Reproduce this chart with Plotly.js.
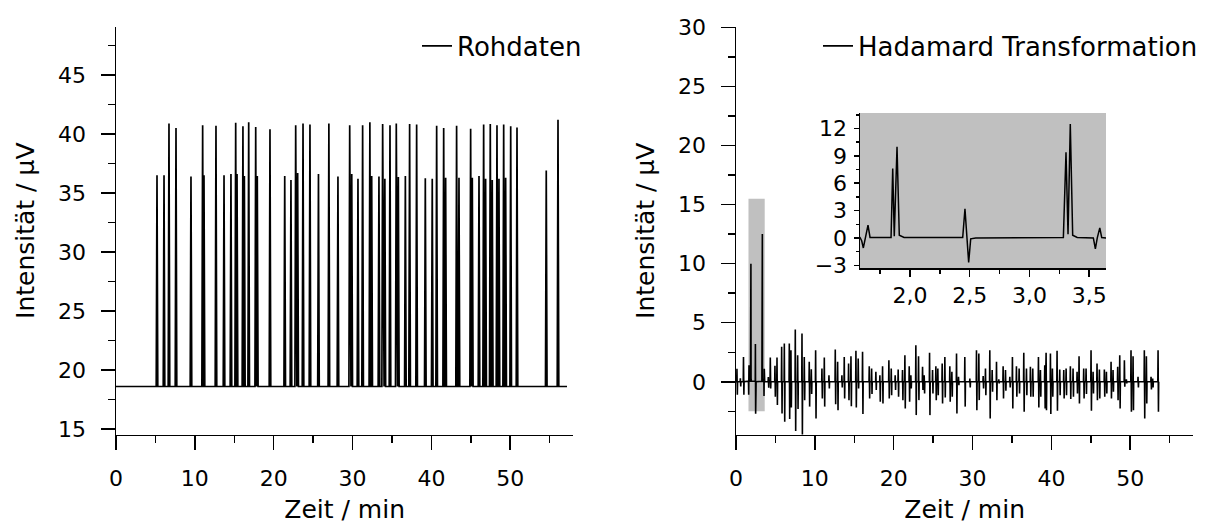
<!DOCTYPE html>
<html>
<head>
<meta charset="utf-8">
<script src="https://cdn.plot.ly/plotly-3.0.1.min.js"></script>
<style>html,body{margin:0;padding:0;background:#fff;}#chart{width:1207px;height:524px;}</style>
</head>
<body>
<div id="chart"></div>
<script>
// ---------------- DATA ----------------
// Left panel: raw data (Rohdaten) – peak retention times (min) and peak heights (µV)
const rohPeakTimes = [5.2, 6.09, 6.72, 7.61, 9.51, 10.99, 11.16, 12.68, 13.7, 14.58, 15.18, 15.35, 16.1, 16.28,
  16.83, 17.72, 17.92, 19.53, 21.4, 22.19, 22.79, 23.04, 23.72, 24.6, 25.68, 27.0, 28.15, 29.64, 29.9, 30.69,
  31.28, 32.2, 32.43, 33.35, 33.82, 34.1, 34.75, 35.55, 35.81, 36.7, 37.24, 38.13, 39.23, 40.11, 40.67, 41.56,
  41.81, 43.2, 43.5, 44.98, 45.19, 46.04, 46.63, 46.88, 47.47, 47.72, 48.32, 48.57, 49.17, 49.42, 50.06, 50.86,
  54.57, 56.06];
const rohPeakHeights = [36.5, 36.5, 40.9, 40.5, 36.4, 40.75, 36.5, 40.7, 36.5, 36.6, 40.95, 36.6, 40.65, 36.45,
  41.0, 40.6, 36.45, 40.4, 36.45, 36.1, 40.75, 36.7, 40.9, 40.8, 36.6, 40.9, 36.4, 40.75, 36.6, 36.2,
  40.75, 41.0, 36.45, 36.4, 40.85, 36.2, 40.75, 40.9, 36.35, 36.45, 40.85, 40.8, 36.25, 36.2, 40.7, 40.5,
  36.3, 40.7, 36.3, 40.45, 36.3, 36.45, 40.8, 36.2, 40.85, 36.1, 40.75, 36.2, 40.8, 36.3, 40.65, 40.55,
  36.9, 41.2];
const rohBaseline = 18.6;      // µV
const rohTimeSpan = [0, 57.2]; // min

// Right panel: Hadamard transformation – bipolar spikes (time, positive lobe, negative lobe)
const hadSpikeTimes = [0.12, 0.55, 0.95, 4.1, 4.35, 4.94, 5.2, 5.79, 6.13, 6.76, 6.97, 7.52, 7.82, 8.37, 8.66,
  9.29, 9.55, 10.1, 10.9, 11.2, 11.79, 12.59, 12.89, 13.43, 13.73, 14.28, 14.58, 15.21, 15.5, 16.05, 16.9, 17.2,
  17.74, 18.25, 18.59, 19.39, 19.69, 20.19, 20.57, 21.12, 21.42, 21.97, 22.18, 22.81, 23.15, 23.66, 23.87, 24.55,
  24.93, 25.35, 25.6, 26.15, 26.49, 27.12, 27.38, 27.97, 28.22, 29.02, 29.66, 30.5, 30.8, 31.35, 31.64, 32.19,
  32.49, 33.04, 33.33, 33.88, 34.18, 34.73, 35.06, 35.57, 35.91, 36.5, 36.84, 37.34, 37.64, 38.36, 38.61, 39.16,
  39.33, 39.88, 40.13, 40.72, 41.06, 41.57, 41.87, 42.41, 42.75, 43.26, 43.51, 44.1, 44.4, 45.03, 45.29, 45.79,
  46.09, 46.72, 46.98, 47.57, 47.82, 48.41, 48.67, 49.26, 49.51, 50.1, 50.36, 50.99, 51.79, 52.05, 52.64, 52.85,
  53.53];
const hadSpikeUp = [1.1, 0.3, 2.1, 0.4, 2.05, 1.35, 2.05, 2.96, 3.24, 3.24, 2.68, 4.42, 2.25, 4.08, 2.1,
  1.7, 1.07, 2.68, 1.13, 2.05, 0.56, 2.73, 1.7, 0.56, 2.1, 1.55, 2.17, 2.62, 1.97, 2.54, 1.32, 1.13,
  0.85, 0.56, 1.32, 1.83, 1.13, 0.56, 1.04, 0.99, 2.25, 1.32, 0.56, 3.1, 2.17, 1.27, 0.56, 2.45,
  0.99, 1.32, 1.13, 1.55, 2.1, 1.32, 0.85, 2.4, 0.42, 2.1, 0.28, 2.68, 2.4, 0.48, 1.13, 2.68,
  0.99, 1.69, 0.2, 1.32, 0.99, 0.42, 2.1, 1.32, 1.13, 2.45, 1.13, 1.27, 1.13, 2.1, 0.99, 1.41,
  2.45, 2.4, 1.13, 2.62, 1.04, 0.99, 1.13, 1.32, 1.13, 0.85, 2.17, 1.13, 1.13, 2.68, 0.85, 1.55,
  1.04, 1.04, 0.85, 1.69, 0.99, 1.27, 2.25, 1.83, 0.2, 2.68, 2.17, 0.42, 2.68, 2.17, 0.42, 0.28,
  2.68];
const hadSpikeDown = [-1.1, -0.4, -1.1, -0.5, -0.56, -1.27, -1.97, -2.68, -3.38, -3.15, -2.17, -4.17, -2.3, -4.5, -1.55,
  -2.1, -1.04, -3.1, -1.41, -2.1, -0.56, -1.89, -2.4, -0.48, -1.41, -1.55, -2.06, -2.17, -0.56, -2.73, -1.41, -1.04,
  -0.7, -1.69, -1.83, -1.41, -1.13, -0.7, -1.27, -1.55, -2.25, -1.69, -0.56, -2.82, -1.55, -0.7, -0.99, -2.82,
  -0.99, -1.55, -1.13, -1.83, -1.32, -1.69, -1.27, -2.68, -0.28, -2.1, -0.48, -2.4, -1.55, -0.56, -1.13, -3.1,
  -0.85, -1.55, -0.14, -1.41, -0.76, -0.48, -2.25, -1.27, -0.99, -2.54, -1.13, -1.27, -1.27, -2.17, -1.27, -2.25,
  -2.4, -2.73, -1.27, -2.45, -1.13, -1.41, -1.13, -1.46, -1.27, -0.99, -1.83, -1.41, -1.04, -2.45, -0.99, -1.55,
  -1.41, -1.27, -0.99, -1.41, -0.85, -1.55, -2.25, -0.42, -0.14, -2.54, -2.4, -0.48, -3.1, -1.83, -0.65, -0.48,
  -2.54];
// Detailed trace inside the zoomed (inset) window
const hadDetailTimes = [1.581, 1.595, 1.609, 1.628, 1.648, 1.665, 1.841, 1.855, 1.868, 1.891, 1.91, 1.95,
  2.441, 2.46, 2.474, 2.491, 2.508, 2.55, 3.284, 3.306, 3.323, 3.342, 3.362, 3.40,
  3.535, 3.552, 3.568, 3.589, 3.605, 3.641];
const hadDetailValues = [0.05, -0.3, -1.1, 0.2, 1.4, 0.05, 0.05, 7.6, 0.2, 10.0, 0.3, 0.05,
  0.05, 3.2, 0.0, -2.7, -0.1, 0.0, 0.05, 9.4, 0.4, 12.5, 0.3, 0.05,
  0.0, -1.2, 0.0, 1.1, 0.05, 0.0];
const hadStart = 0;
const insetXRange = [1.581, 3.641];
const insetYRange = [-3.33, 13.7];
const highlightY = [-2.5, 15.5];

const rohName = 'Rohdaten';
const hadName = 'Hadamard Transformation';
const xTitle = 'Zeit / min';
const yTitle = 'Intensität / µV';

// ---------------- BUILD TRACES ----------------
const PEAK_HW = 0.1;
const rohX = [rohTimeSpan[0]], rohY = [rohBaseline];
rohPeakTimes.forEach((t, i) => {
  rohX.push(t - PEAK_HW, t, t + PEAK_HW);
  rohY.push(rohBaseline, rohPeakHeights[i], rohBaseline);
});
rohX.push(rohTimeSpan[1]); rohY.push(rohBaseline);

const hadX = [hadStart], hadY = [0];
function pushSpike(i) {
  const t = hadSpikeTimes[i];
  hadX.push(t - 0.03, t, t + 0.05, t + 0.08);
  hadY.push(0, hadSpikeUp[i], hadSpikeDown[i], 0);
}
hadSpikeTimes.forEach((t, i) => { if (t < insetXRange[0]) pushSpike(i); });
hadDetailTimes.forEach((t, i) => { hadX.push(t); hadY.push(hadDetailValues[i]); });
hadSpikeTimes.forEach((t, i) => { if (t > insetXRange[1]) pushSpike(i); });

// ---------------- LAYOUT ----------------
const W = 1207, H = 524;
const FONT = 'DejaVu Sans, Arial, sans-serif';
const px = v => v / W, py = v => 1 - v / H;

const tickFont = {family: FONT, size: 22, color: '#000'};
const titleFont = {family: FONT, size: 25, color: '#000'};
const AXW = 1.5;

function mainAxis(extra) {
  return Object.assign({
    showline: true, linecolor: '#000', linewidth: AXW, mirror: false,
    ticks: 'outside', ticklen: 14, tickwidth: AXW, tickcolor: '#000',
    showgrid: false, zeroline: false, tickfont: tickFont,
    fixedrange: true
  }, extra);
}
function minorTicks(dt, len) {
  return {dtick: dt, ticks: 'outside', ticklen: len, tickwidth: AXW, tickcolor: '#000', showgrid: false};
}

const yDom = [py(434.5), py(27)];

const traces = [
  {x: rohX, y: rohY, type: 'scatter', mode: 'lines', name: rohName,
   line: {color: '#000', width: 1.7}, xaxis: 'x', yaxis: 'y', legend: 'legend'},
  {x: hadX, y: hadY, type: 'scatter', mode: 'lines', name: hadName,
   line: {color: '#000', width: 1.6}, xaxis: 'x2', yaxis: 'y2', legend: 'legend2'},
  {x: hadX, y: hadY, type: 'scatter', mode: 'lines', name: hadName + ' (Ausschnitt)', showlegend: false,
   line: {color: '#000', width: 1.5}, xaxis: 'x3', yaxis: 'y3'}
];

const layout = {
  width: W, height: H,
  margin: {l: 0, r: 0, t: 0, b: 0},
  paper_bgcolor: '#fff', plot_bgcolor: 'rgba(0,0,0,0)',
  font: {family: FONT, size: 22, color: '#000'},
  separators: ', ',
  xaxis: mainAxis({domain: [px(116), px(573.3)], range: [0, 58], anchor: 'y',
    dtick: 10, tick0: 0, ticklabelstandoff: 10, minor: minorTicks(5, 7),
    title: {text: xTitle, font: titleFont, standoff: 12}}),
  yaxis: mainAxis({domain: yDom, range: [14.53, 49.07], anchor: 'x',
    dtick: 5, tick0: 0, ticklabelstandoff: 10, minor: minorTicks(2.5, 7),
    title: {text: yTitle, font: titleFont, standoff: 16}}),
  xaxis2: mainAxis({domain: [px(736), px(1193.3)], range: [0, 58], anchor: 'y2',
    dtick: 10, tick0: 0, ticklabelstandoff: 10, minor: minorTicks(5, 7),
    title: {text: xTitle, font: titleFont, standoff: 12}}),
  yaxis2: mainAxis({domain: yDom, range: [-4.46, 30.03], anchor: 'x2',
    dtick: 5, tick0: 0, ticklabelstandoff: 10, minor: minorTicks(2.5, 7),
    title: {text: yTitle, font: titleFont, standoff: 16}}),
  xaxis3: mainAxis({domain: [px(860), px(1106)], range: insetXRange, anchor: 'y3',
    dtick: 0.5, tick0: 0, tickformat: '.1f', ticklen: 7, ticklabelstandoff: 0,
    minor: minorTicks(0.25, 4)}),
  yaxis3: mainAxis({domain: [py(268.3), py(113)], range: insetYRange, anchor: 'x3',
    dtick: 3, tick0: 0, ticklen: 5, ticklabelstandoff: 2,
    minor: minorTicks(1.5, 3)}),
  shapes: [
    {type: 'rect', xref: 'x3 domain', yref: 'y3 domain', x0: 0, x1: 1, y0: 0, y1: 1,
     fillcolor: '#c0c0c0', line: {width: 0}, layer: 'below'},
    {type: 'rect', xref: 'x2', yref: 'y2', x0: insetXRange[0], x1: insetXRange[1],
     y0: highlightY[0], y1: highlightY[1], fillcolor: '#c0c0c0', line: {width: 0}, layer: 'below'}
  ],
  showlegend: true,
  legend: {x: px(417), xanchor: 'left', y: py(46), yanchor: 'middle', bgcolor: 'rgba(0,0,0,0)',
    borderwidth: 0, font: {family: FONT, size: 26, color: '#000'}},
  legend2: {x: px(818), xanchor: 'left', y: py(46), yanchor: 'middle', bgcolor: 'rgba(0,0,0,0)',
    borderwidth: 0, font: {family: FONT, size: 26, color: '#000'}}
};

Plotly.newPlot('chart', traces, layout, {displayModeBar: false, staticPlot: true});
</script>
</body>
</html>
